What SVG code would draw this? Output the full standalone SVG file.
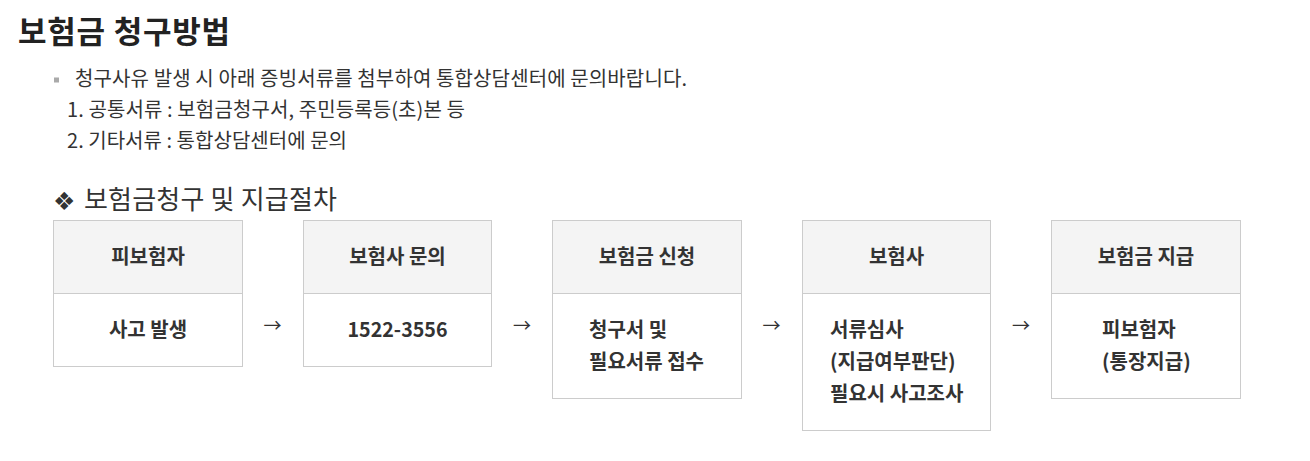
<svg xmlns="http://www.w3.org/2000/svg" width="1310" height="461" viewBox="0 0 1310 461">
<style>
text{font-family:"Noto Sans CJK KR","Noto Sans",sans-serif;fill:#333}
.title{font-size:31px;font-weight:700;fill:#222}
.desc{font-size:20px}
.sub{font-size:26px}
.hd{fill:#f4f4f4;stroke:#ccc;stroke-width:1}
.bd{fill:#fff;stroke:#ccc;stroke-width:1}
.ht{font-size:20px;font-weight:700;text-anchor:middle}
.bt{font-size:20px;font-weight:700}
.btc{font-size:20px;font-weight:700;text-anchor:middle}
.arr{font-size:18px;text-anchor:middle;fill:#333}
</style>
<rect width="1310" height="461" fill="#fff"/>
<text class="title" x="18" y="43" textLength="212" lengthAdjust="spacing">보험금 청구방법</text>
<rect x="54" y="77.5" width="5" height="5" fill="#aaa"/>
<text class="desc" x="75" y="86" textLength="612" lengthAdjust="spacing">청구사유 발생 시 아래 증빙서류를 첨부하여 통합상담센터에 문의바랍니다.</text>
<text class="desc" x="67" y="117" textLength="398" lengthAdjust="spacing">1. 공통서류 : 보험금청구서, 주민등록등(초)본 등</text>
<text class="desc" x="67" y="148" textLength="280" lengthAdjust="spacing">2. 기타서류 : 통합상담센터에 문의</text>
<text x="53" y="210" style="font-family:'DejaVu Sans',sans-serif;font-size:25px">❖</text>
<text class="sub" x="84" y="209" textLength="253" lengthAdjust="spacing">보험금청구 및 지급절차</text>

<g id="node1">
<rect class="hd" x="53.5" y="220.5" width="189" height="73"/>
<rect class="bd" x="53.5" y="293.5" width="189" height="73"/>
<text class="ht" x="148" y="264">피보험자</text>
<text class="btc" x="148" y="337">사고 발생</text>
</g>
<g id="node2">
<rect class="hd" x="303.5" y="220.5" width="188" height="73"/>
<rect class="bd" x="303.5" y="293.5" width="188" height="73"/>
<text class="ht" x="397.5" y="264">보험사 문의</text>
<text class="btc" x="397.5" y="337" textLength="100" lengthAdjust="spacingAndGlyphs">1522-3556</text>
</g>
<g id="node3">
<rect class="hd" x="552.5" y="220.5" width="189" height="73"/>
<rect class="bd" x="552.5" y="293.5" width="189" height="105"/>
<text class="ht" x="647" y="264">보험금 신청</text>
<text class="bt" x="589" y="337">청구서 및</text>
<text class="bt" x="589" y="369">필요서류 접수</text>
</g>
<g id="node4">
<rect class="hd" x="802.5" y="220.5" width="188" height="73"/>
<rect class="bd" x="802.5" y="293.5" width="188" height="137"/>
<text class="ht" x="896.5" y="264">보험사</text>
<text class="bt" x="830" y="337">서류심사</text>
<text class="bt" x="830" y="369">(지급여부판단)</text>
<text class="bt" x="830" y="401">필요시 사고조사</text>
</g>
<g id="node5">
<rect class="hd" x="1051.5" y="220.5" width="189" height="73"/>
<rect class="bd" x="1051.5" y="293.5" width="189" height="105"/>
<text class="ht" x="1146" y="264">보험금 지급</text>
<text class="bt" x="1102" y="337">피보험자</text>
<text class="bt" x="1102" y="369">(통장지급)</text>
</g>
<g id="connectors">
<text class="arr" x="272.5" y="332">→</text>
<text class="arr" x="522" y="332">→</text>
<text class="arr" x="771.5" y="332">→</text>
<text class="arr" x="1021" y="332">→</text>
</g>
</svg>
